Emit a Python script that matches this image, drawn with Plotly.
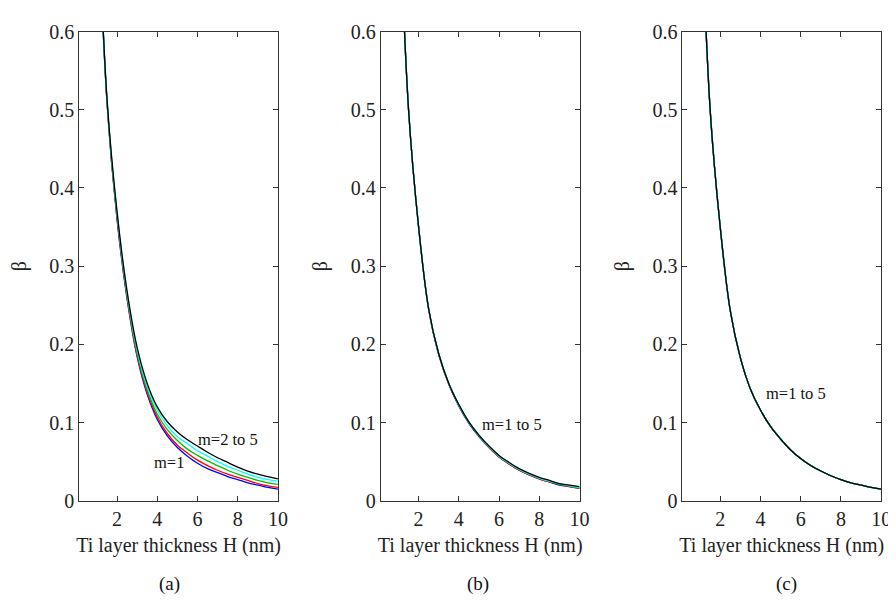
import plotly.graph_objects as go

# Ti layer thickness H (nm), shared sample positions for all curves
H = [1.0, 1.5, 2.0, 2.5, 3.0, 3.5, 4.0, 4.5, 5.0, 5.5, 6.0, 6.5, 7.0, 7.5, 8.0, 8.5, 9.0, 9.5, 10.0]

# panel (a): m=1 (blue) is lowest, m=5 (black) is highest
a_m1 = [0.80, 0.510, 0.360, 0.258, 0.184, 0.136, 0.104, 0.083, 0.068, 0.057, 0.048, 0.041, 0.036, 0.031, 0.027, 0.023, 0.020, 0.017, 0.015]
a_m2 = [0.80, 0.511, 0.362, 0.260, 0.186, 0.139, 0.107, 0.086, 0.071, 0.061, 0.052, 0.045, 0.039, 0.034, 0.030, 0.026, 0.022, 0.019, 0.017]
a_m3 = [0.80, 0.512, 0.365, 0.263, 0.189, 0.142, 0.111, 0.091, 0.077, 0.066, 0.058, 0.051, 0.045, 0.039, 0.034, 0.030, 0.026, 0.023, 0.021]
a_m4 = [0.80, 0.514, 0.368, 0.266, 0.193, 0.146, 0.116, 0.096, 0.082, 0.073, 0.064, 0.057, 0.050, 0.044, 0.039, 0.034, 0.030, 0.027, 0.025]
a_m5 = [0.80, 0.515, 0.370, 0.268, 0.196, 0.150, 0.120, 0.101, 0.088, 0.078, 0.070, 0.062, 0.055, 0.049, 0.043, 0.038, 0.034, 0.031, 0.028]

# panel (b): the five curves nearly coincide
b_m1 = [0.80, 0.500, 0.350, 0.245, 0.187, 0.149, 0.121, 0.099, 0.082, 0.068, 0.056, 0.047, 0.039, 0.033, 0.028, 0.024, 0.020, 0.018, 0.016]
b_m2 = [0.80, 0.500, 0.350, 0.245, 0.187, 0.149, 0.122, 0.100, 0.083, 0.068, 0.056, 0.047, 0.039, 0.033, 0.028, 0.024, 0.021, 0.018, 0.016]
b_m3 = [0.80, 0.500, 0.350, 0.245, 0.188, 0.150, 0.122, 0.100, 0.083, 0.069, 0.057, 0.048, 0.040, 0.034, 0.029, 0.025, 0.021, 0.019, 0.016]
b_m4 = [0.80, 0.500, 0.350, 0.245, 0.188, 0.150, 0.123, 0.101, 0.084, 0.069, 0.057, 0.048, 0.040, 0.034, 0.029, 0.025, 0.022, 0.019, 0.017]
b_m5 = [0.80, 0.500, 0.350, 0.245, 0.188, 0.150, 0.123, 0.101, 0.084, 0.070, 0.058, 0.049, 0.041, 0.035, 0.030, 0.026, 0.022, 0.020, 0.018]

# panel (c): the five curves coincide
c_m1 = [0.80, 0.500, 0.350, 0.243, 0.183, 0.143, 0.116, 0.095, 0.079, 0.065, 0.054, 0.045, 0.038, 0.032, 0.027, 0.023, 0.020, 0.017, 0.015]
c_m2 = [0.80, 0.500, 0.350, 0.243, 0.183, 0.143, 0.116, 0.095, 0.079, 0.065, 0.054, 0.045, 0.038, 0.032, 0.027, 0.023, 0.020, 0.017, 0.015]
c_m3 = [0.80, 0.500, 0.350, 0.243, 0.183, 0.143, 0.116, 0.095, 0.079, 0.065, 0.054, 0.045, 0.038, 0.032, 0.027, 0.023, 0.020, 0.017, 0.015]
c_m4 = [0.80, 0.500, 0.350, 0.243, 0.183, 0.143, 0.116, 0.095, 0.079, 0.065, 0.054, 0.045, 0.038, 0.032, 0.027, 0.023, 0.020, 0.017, 0.015]
c_m5 = [0.80, 0.500, 0.350, 0.243, 0.183, 0.143, 0.116, 0.095, 0.079, 0.065, 0.054, 0.045, 0.038, 0.032, 0.027, 0.023, 0.020, 0.017, 0.015]

x_ticks = [2, 4, 6, 8, 10]
y_ticks = [0, 0.1, 0.2, 0.3, 0.4, 0.5, 0.6]
y_labels = ['0', '0.1', '0.2', '0.3', '0.4', '0.5', '0.6']

COLORS = ['#0000ff', '#ff0000', '#00c000', '#00ffff', '#000000']
FONT = 'Liberation Serif'
TICKFONT = dict(family=FONT, size=20, color='#222')

panels = [
    ('x', 'y', [a_m1, a_m2, a_m3, a_m4, a_m5]),
    ('x2', 'y2', [b_m1, b_m2, b_m3, b_m4, b_m5]),
    ('x3', 'y3', [c_m1, c_m2, c_m3, c_m4, c_m5]),
]

fig = go.Figure()

for xa, ya, series in panels:
    for vals, col in zip(series, COLORS):
        fig.add_trace(go.Scatter(
            x=H, y=vals, mode='lines', xaxis=xa, yaxis=ya,
            line=dict(color=col, width=1.3, shape='spline', smoothing=1.0),
            showlegend=False, hoverinfo='skip',
        ))

# pixel layout of the three boxes (896 x 603 window)
W, Ht = 896, 603
x_domains = [(72, 273), (377, 578), (682, 883)]
y_dom = [1 - 500 / Ht, 1 - 13 / Ht]

layout = dict(
    width=W, height=Ht, plot_bgcolor='white', paper_bgcolor='white',
    margin=dict(l=0, r=0, t=0, b=0), showlegend=False,
    font=dict(family=FONT, color='#222', size=20),
)
for i, (x0, x1) in enumerate(x_domains):
    sfx = '' if i == 0 else str(i + 1)
    layout['xaxis' + sfx] = dict(
        domain=[x0 / W, x1 / W], range=[0.12, 10],
        tickvals=x_ticks, anchor='y' + sfx,
        title=dict(text='Ti layer thickness H (nm)', font=dict(family=FONT, size=20), standoff=9),
    )
    layout['yaxis' + sfx] = dict(
        domain=y_dom, range=[0, 0.6],
        tickvals=y_ticks, ticktext=y_labels, anchor='x' + sfx,
        title=dict(text='β', font=dict(family=FONT, size=20), standoff=17),
    )
fig.update_layout(layout)

fig.update_xaxes(showline=True, linecolor='#333', linewidth=1, mirror='ticks',
                 ticks='inside', ticklen=5, tickcolor='#333', showgrid=False,
                 zeroline=False, tickfont=TICKFONT)
fig.update_yaxes(showline=True, linecolor='#333', linewidth=1, mirror='ticks',
                 ticks='inside', ticklen=5, tickcolor='#333', showgrid=False,
                 zeroline=False, tickfont=TICKFONT)

# curve labels
lab_font = dict(family=FONT, size=16.5, color='#111')
fig.add_annotation(x=7.54, y=0.078, xref='x', yref='y', text='m=2 to 5', showarrow=False, font=lab_font)
fig.add_annotation(x=4.6, y=0.049, xref='x', yref='y', text='m=1', showarrow=False, font=lab_font)
fig.add_annotation(x=6.65, y=0.097, xref='x2', yref='y2', text='m=1 to 5', showarrow=False, font=lab_font)
fig.add_annotation(x=5.76, y=0.137, xref='x3', yref='y3', text='m=1 to 5', showarrow=False, font=lab_font)

# panel captions
for cx, cap in zip([163, 475, 787], ['(a)', '(b)', '(c)']):
    fig.add_annotation(x=cx / W, y=1 - 586 / Ht, xref='paper', yref='paper', text=cap,
                       xanchor='center', yanchor='middle', showarrow=False,
                       font=dict(family=FONT, size=19, color='#111'))

fig.write_html('out.html')
